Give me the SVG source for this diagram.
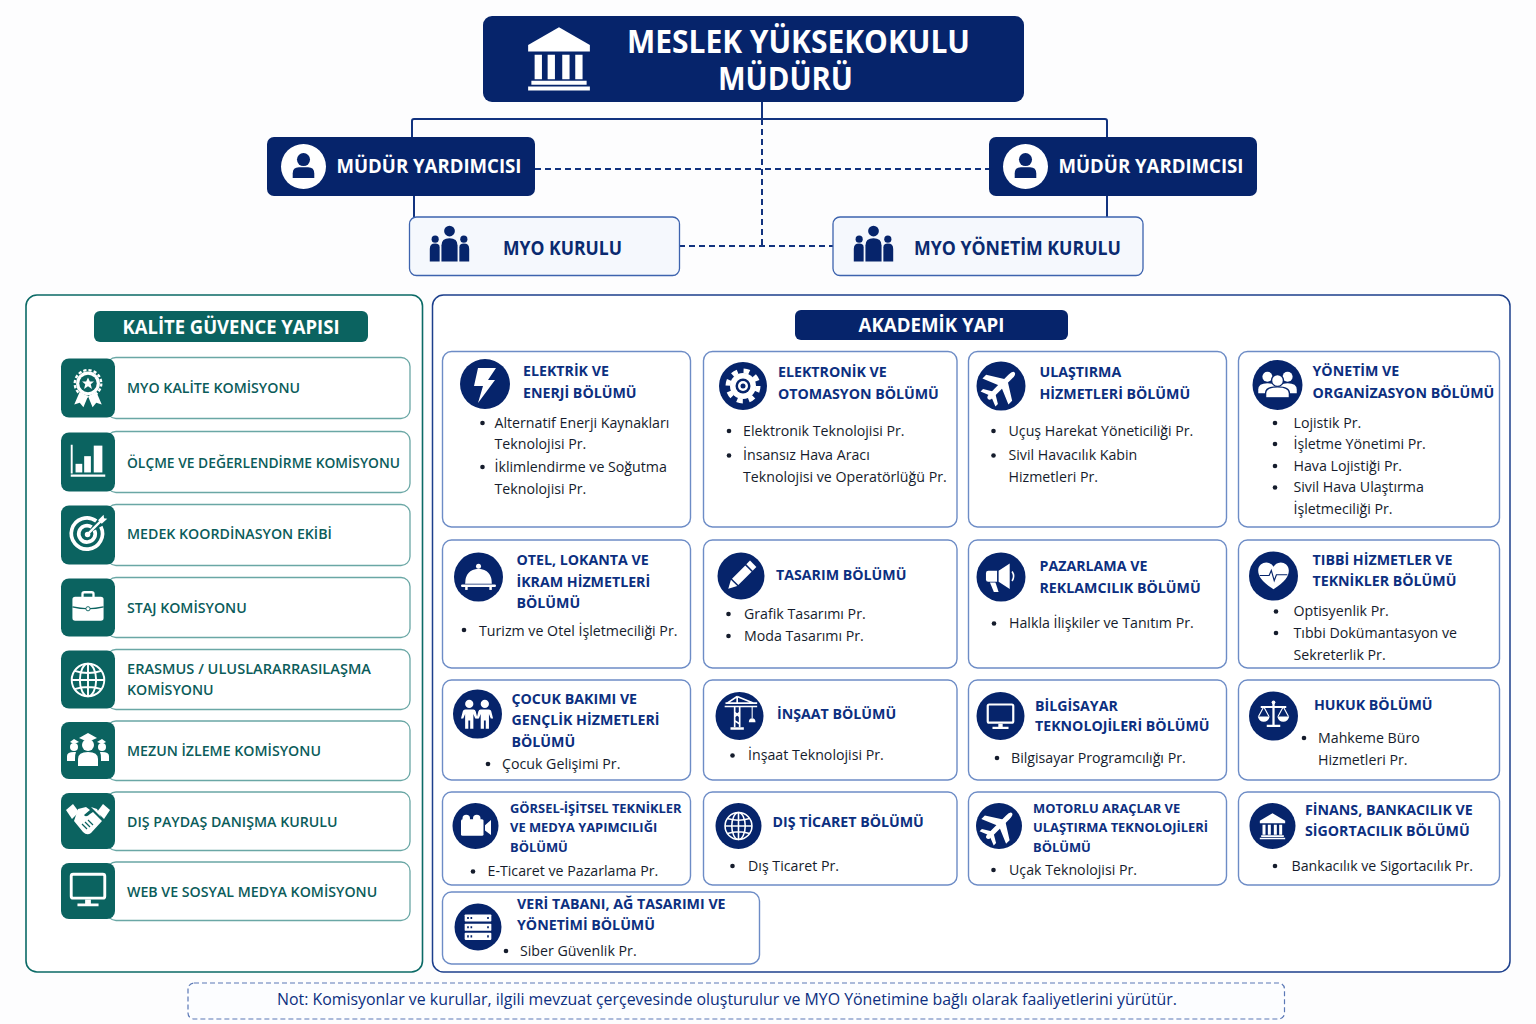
<svg xmlns="http://www.w3.org/2000/svg" width="1536" height="1024" viewBox="0 0 1536 1024">
<style>
text{font-family:"Open Sans","Noto Sans","Liberation Sans",sans-serif}
.navy{fill:#06246b}
.big{font-weight:700;fill:#fff;font-size:33px}
.vp{font-weight:700;fill:#fff;font-size:20px}
.kur{font-weight:700;fill:#0a2a70;font-size:19px}
.hd{font-weight:700;fill:#fff;font-size:19px;text-anchor:middle}
.pan{fill:#fff;stroke:#1c3f8c;stroke-width:1.5}
.pant{fill:#fff;stroke:#0b6a66;stroke-width:1.6}
.card{fill:#fff;stroke:#6d8cc6;stroke-width:1.4}
.qc{fill:#fff;stroke:#6aa7a5;stroke-width:1.3}
.tile{fill:#0b6360;color:#0b6360}
.qt{font-weight:600;fill:#0b5c5a;font-size:14.2px}
.ic{fill:#06246b}
.t{font-weight:700;fill:#0c2f80;font-size:14.2px}
.ts{font-weight:700;fill:#0c2f80;font-size:12.9px}
.b{fill:#151c2c;font-size:14.2px}
.d{fill:#151c2c}
.con{fill:none;stroke:#12337f;stroke-width:2}
.das{stroke-dasharray:6 4}
.use{color:#06246b}
</style>
<defs>
<symbol id="i-bank" viewBox="0 0 48 48"><path fill="#fff" d="M24 5L43 16V20H5V16Z"/><path fill="#fff" d="M9 22h4.500v15H9zM17 22h4.500v15H17zM26 22h4.500v15H26zM34 22h4.500v15H34zM7 38h34v2.500H7zM5 41.500h38V44H5z"/></symbol>
<symbol id="i-person" viewBox="0 0 48 48"><circle cx="24" cy="15" r="8.500" fill="currentColor"/><path fill="currentColor" d="M10 39V33Q10 25 18 25H30Q38 25 38 33V39Z"/></symbol>
<symbol id="i-crowd" viewBox="0 0 48 48"><g fill="currentColor"><circle cx="24" cy="9" r="6"/><circle cx="8" cy="18" r="4"/><circle cx="40" cy="18" r="4"/><path d="M15 43V25Q15 17 24 17Q33 17 33 25V43Z"/><path d="M2 43V29Q2 23 8 23Q13 23 13 27V43Z"/><path d="M46 43V29Q46 23 40 23Q35 23 35 27V43Z"/></g></symbol>
<symbol id="i-award" viewBox="0 0 48 48"><path fill="#fff" d="M15 28L9 42L15 40L19 45L24 33ZM33 28L39 42L33 40L29 45L24 33Z"/><circle cx="24" cy="19" r="13" fill="#fff"/><circle cx="24" cy="19" r="14.500" fill="none" stroke="#fff" stroke-width="2.500" stroke-dasharray="3.500 2.200"/><circle cx="24" cy="19" r="9.500" fill="currentColor"/><path fill="#fff" d="M24 12.500L26 17H30.500L27 20L28.300 25L24 22.200L19.700 25L21 20L17.500 17H22Z"/></symbol>
<symbol id="i-chart" viewBox="0 0 48 48"><g fill="#fff"><path d="M6 8h2v30H6zM6 39h36v2.500H6z"/><rect x="11" y="28" width="7" height="9"/><rect x="20" y="20" width="7" height="17"/><rect x="30" y="9" width="9" height="28"/></g></symbol>
<symbol id="i-target" viewBox="0 0 48 48"><g fill="none" stroke="#fff"><path stroke-width="4" d="M33 11A17 17 0 1 0 38 17"/><path stroke-width="4" d="M28 17.500A9 9 0 1 0 31 21"/></g><circle cx="23.500" cy="25.500" r="3" fill="#fff"/><path stroke="#fff" stroke-width="2.500" d="M24 25L39 10"/><path fill="#fff" d="M35 10L41 4L41.500 8L45 8.500L39 14Z"/></symbol>
<symbol id="i-case" viewBox="0 0 48 48"><path fill="none" stroke="#fff" stroke-width="2.500" d="M18 15V10.500Q18 9 20 9H28Q30 9 30 10.500V15"/><rect x="7" y="14" width="34" height="26" rx="3" fill="#fff"/><path fill="none" stroke="currentColor" stroke-width="1.300" d="M7 25Q24 29 41 25"/><circle cx="24" cy="27" r="2.300" fill="#fff" stroke="currentColor"/></symbol>
<symbol id="i-globe" viewBox="0 0 48 48"><g fill="none" stroke="#fff" stroke-width="2"><circle cx="24" cy="24" r="17"/><ellipse cx="24" cy="24" rx="8.500" ry="17"/><path d="M24 7V41M7 24H41M10 14.500Q24 19 38 14.500M10 33.500Q24 29 38 33.500"/></g></symbol>
<symbol id="i-grads" viewBox="0 0 48 48"><g fill="#fff"><path d="M24 6L33 11L24 15L15 11Z"/><circle cx="24" cy="18" r="6"/><path d="M14 39V32Q14 25 24 25Q34 25 34 32V39Z"/><path d="M10 12L15 15L10 17L6 15Z"/><circle cx="10" cy="20" r="4"/><path d="M3 34V29Q3 25 10 25L12 25Q11 27 11 32V34Z"/><path d="M38 12L42 15L38 17L33 15Z"/><circle cx="38" cy="20" r="4"/><path d="M45 34V29Q45 25 38 25L36 25Q37 27 37 32V34Z"/></g></symbol>
<symbol id="i-hands" viewBox="0 0 48 48"><g fill="#fff"><path d="M2 15L9 9L15 17L8 24Z"/><path d="M46 15L39 9L33 17L40 24Z"/><path d="M14 14L22 12L26 15L20 20Q22 23 26 19L29 17L38 26L27 38Q23 41 19 37L10 26Z"/><path d="M27 12L33 14L37 22L31 16Z"/></g><path fill="none" stroke="currentColor" stroke-width="1.200" d="M18 29L23 34M21 27L26 32M24 25L29 30"/></symbol>
<symbol id="i-mon" viewBox="0 0 48 48"><rect x="6.500" y="7.500" width="35" height="25" rx="2" fill="none" stroke="#fff" stroke-width="3"/><path fill="#fff" d="M21 34h6v4h-6zM13 38h22v3H13z"/></symbol>
<symbol id="i-bolt" viewBox="0 0 48 48"><path fill="#fff" d="M17 8H35L27 20H34L17 43L22 26H13Z"/></symbol>
<symbol id="i-gear" viewBox="0 0 48 48"><circle cx="24" cy="24" r="13" fill="#fff"/><circle cx="24" cy="24" r="15" fill="none" stroke="#fff" stroke-width="5" stroke-dasharray="5.800 6"/><circle cx="24" cy="24" r="7.500" fill="currentColor"/><circle cx="24" cy="24" r="5" fill="#fff"/><circle cx="24" cy="24" r="2.500" fill="currentColor"/></symbol>
<symbol id="i-plane" viewBox="0 0 48 48"><g transform="rotate(-45 24 24)" fill="#fff"><path d="M3 24Q3 21 8 21H39Q46 21 46 24Q46 27 39 27H8Q3 27 3 24Z"/><path d="M23 22L15 3H21L33 22ZM23 26L15 45H21L33 26Z"/><path d="M7 22L3 12H7L13 22ZM7 26L3 36H7L13 26Z"/></g></symbol>
<symbol id="i-group" viewBox="0 0 48 48"><g fill="#fff"><circle cx="13" cy="15" r="5.500"/><circle cx="35" cy="15" r="5.500"/><path d="M3 33V29Q3 22 13 22Q23 22 23 29V33Z"/><path d="M25 33V29Q25 22 35 22Q45 22 45 29V33Z"/><circle cx="24" cy="19" r="6.500" stroke="currentColor" stroke-width="1.500"/><path stroke="currentColor" stroke-width="1.500" d="M11 38V33Q11 26 24 26Q37 26 37 33V38Z"/></g></symbol>
<symbol id="i-clo" viewBox="0 0 48 48"><g fill="#fff"><circle cx="24" cy="11" r="3"/><path d="M8 32Q8 15 24 14Q40 15 40 32Z"/><rect x="3" y="33" width="42" height="3" rx="1.500"/><rect x="8" y="36" width="3" height="3.500"/><rect x="37" y="36" width="3" height="3.500"/></g></symbol>
<symbol id="i-pen" viewBox="0 0 48 48"><g transform="rotate(45 24 24)" fill="#fff"><rect x="18" y="1" width="12" height="7"/><rect x="18" y="10" width="12" height="25"/><path d="M18 37H30L24 48Z"/></g></symbol>
<symbol id="i-mega" viewBox="0 0 48 48"><g fill="#fff"><path d="M5 19Q5 16 8 16H19V30H8Q5 30 5 27Z"/><path d="M21 16L35 7V39L21 30Z"/><path d="M10 31H17L21 43H15Z"/></g><path fill="none" stroke="#fff" stroke-width="2" d="M38 17Q42 23 38 29"/></symbol>
<symbol id="i-heart" viewBox="0 0 48 48"><path fill="#fff" d="M24 43C8 32 3 25 3 17C3 10 9 6 14 6C19 6 22 9 24 12C26 9 29 6 34 6C39 6 45 10 45 17C45 25 40 32 24 43Z"/><path fill="none" stroke="currentColor" stroke-width="1.600" d="M5 24H18L21 17L25 31L28 23H43"/></symbol>
<symbol id="i-kids" viewBox="0 0 48 48"><defs><path id="kid" d="M10.500 19H19.500Q21.500 19 22 21L24 29H21.500L19.500 24V40H16V31H14V40H10.500V24L8.500 29H6L8 21Q8.500 19 10.500 19Z"/></defs><g fill="#fff"><circle cx="15" cy="13" r="4.500"/><circle cx="32" cy="13" r="4.500"/><use href="#kid"/><use href="#kid" x="17"/></g></symbol>
<symbol id="i-crane" viewBox="0 0 48 48"><g stroke="#fff" fill="none"><path stroke-width="2" d="M17 16V40M23 16V40M17 22L23 27M23 22L17 27M17 32L23 36M5 15H44M6 11H44M20 3L8 11M20 3L40 11M20 3V11"/><path stroke-width="1.300" d="M38 15V29"/></g><path fill="#fff" d="M12 40H28V43H12ZM34 34Q34 29 38 29Q42 29 42 34Z"/></symbol>
<symbol id="i-scale" viewBox="0 0 48 48"><g fill="#fff"><path d="M22.500 7h3v30h-3zM15 37H33V40H15zM7 12H41V14.500H7z"/><path d="M3 26H19Q17 33 11 33Q5 33 3 26ZM29 26H45Q43 33 37 33Q31 33 29 26Z"/><circle cx="24" cy="7" r="2.500"/></g><path fill="none" stroke="#fff" stroke-width="1.500" d="M11 13L4 26M11 13L18 26M37 13L30 26M37 13L44 26"/></symbol>
<symbol id="i-cam" viewBox="0 0 48 48"><g fill="#fff"><rect x="4" y="15" width="30" height="22" rx="2"/><circle cx="11" cy="14" r="5"/><circle cx="25" cy="14" r="5"/><path d="M36 23L44 16V36L36 30Z"/></g></symbol>
<symbol id="i-srv" viewBox="0 0 48 48"><g fill="#fff"><rect x="8" y="9" width="32" height="8.500" rx="1"/><rect x="8" y="20" width="32" height="8.500" rx="1"/><rect x="8" y="31" width="32" height="8.500" rx="1"/></g><g fill="currentColor"><path d="M11 12h2v2.500h-2zM15 12h2v2.500h-2zM35 12h2v2.500h-2zM11 23h2v2.500h-2zM15 23h2v2.500h-2zM35 23h2v2.500h-2zM11 34h2v2.500h-2zM15 34h2v2.500h-2zM35 34h2v2.500h-2z"/></g></symbol>
</defs>
<rect width="1536" height="1024" fill="#fdfdfe"/>

<g id="connectors">
<path class="con" d="M762 102V119M412 137V121Q412 119 414 119H1105Q1107 119 1107 121V137M414 196V217M1107 196V217"/>
<path class="con das" d="M762 119V246M535 169H989M679 246H833"/>
</g>

<g id="node-mudur">
<rect class="navy" x="483" y="16" width="541" height="86" rx="9"/>
<use href="#i-bank" x="520" y="19" width="78" height="78"/>
<text class="big" x="627" y="53" textLength="343" lengthAdjust="spacingAndGlyphs">MESLEK YÜKSEKOKULU</text>
<text class="big" x="718" y="90" textLength="135" lengthAdjust="spacingAndGlyphs">MÜDÜRÜ</text>
</g>
<g id="node-yard1" style="color:#06246b">
<rect class="navy" x="267" y="137" width="268" height="59" rx="7"/>
<circle cx="303.500" cy="166.500" r="22.500" fill="#fff"/>
<use href="#i-person" x="285" y="148" width="37" height="37"/>
<text class="vp" x="336.500" y="173" textLength="185" lengthAdjust="spacingAndGlyphs">MÜDÜR YARDIMCISI</text>
</g>
<g id="node-yard2" style="color:#06246b">
<rect class="navy" x="989" y="137" width="268" height="59" rx="7"/>
<circle cx="1025.500" cy="166.500" r="22.500" fill="#fff"/>
<use href="#i-person" x="1007" y="148" width="37" height="37"/>
<text class="vp" x="1058.500" y="173" textLength="185" lengthAdjust="spacingAndGlyphs">MÜDÜR YARDIMCISI</text>
</g>
<g id="node-kurul" style="color:#06246b">
<rect x="409.500" y="217" width="270" height="58.500" rx="7" fill="#f5f8fd" stroke="#3d63ae" stroke-width="1.300"/>
<use href="#i-crowd" x="426" y="223" width="47" height="43"/>
<text class="kur" x="503" y="255" textLength="119" lengthAdjust="spacingAndGlyphs">MYO KURULU</text>
</g>
<g id="node-yonetim" style="color:#06246b">
<rect x="833" y="217" width="310" height="58.500" rx="7" fill="#f5f8fd" stroke="#3d63ae" stroke-width="1.300"/>
<use href="#i-crowd" x="850" y="223" width="47" height="43"/>
<text class="kur" x="914" y="255" textLength="207" lengthAdjust="spacingAndGlyphs">MYO YÖNETİM KURULU</text>
</g>

<g id="panel-kalite">
<rect class="pant" x="26" y="295" width="396.500" height="677" rx="11"/>
<rect x="94" y="311" width="274" height="31" rx="6" fill="#0b6360"/>
<text class="hd" x="231" y="333.500" textLength="217" lengthAdjust="spacingAndGlyphs">KALİTE GÜVENCE YAPISI</text>
</g>
<g id="q1" class="tile"><rect class="qc" x="107" y="357.500" width="303" height="61" rx="9"/><rect class="tile" x="61" y="358.500" width="54" height="59" rx="8"/><use href="#i-award" x="66" y="366" width="44" height="44"/><text class="qt" x="127" y="393">MYO KALİTE KOMİSYONU</text></g>
<g id="q2" class="tile"><rect class="qc" x="107" y="431.500" width="303" height="61" rx="9"/><rect class="tile" x="61" y="432.500" width="54" height="59" rx="8"/><use href="#i-chart" x="65" y="437" width="46" height="46"/><text class="qt" x="127" y="467.500" textLength="273" lengthAdjust="spacingAndGlyphs">ÖLÇME VE DEĞERLENDİRME KOMİSYONU</text></g>
<g id="q3" class="tile"><rect class="qc" x="107" y="504.500" width="303" height="61" rx="9"/><rect class="tile" x="61" y="505.500" width="54" height="59" rx="8"/><use href="#i-target" x="66" y="511" width="44" height="44"/><text class="qt" x="127" y="539">MEDEK KOORDİNASYON EKİBİ</text></g>
<g id="q4" class="tile"><rect class="qc" x="107" y="577.500" width="303" height="60" rx="9"/><rect class="tile" x="61" y="578.500" width="54" height="58" rx="8"/><use href="#i-case" x="66" y="584" width="44" height="44"/><text class="qt" x="127" y="612.500">STAJ KOMİSYONU</text></g>
<g id="q5" class="tile"><rect class="qc" x="107" y="649.500" width="303" height="60" rx="9"/><rect class="tile" x="61" y="650.500" width="54" height="58" rx="8"/><use href="#i-globe" x="65" y="657" width="46" height="46"/><text class="qt" x="127" y="674" textLength="244" lengthAdjust="spacingAndGlyphs">ERASMUS / ULUSLARARRASILAŞMA</text><text class="qt" x="127" y="695">KOMİSYONU</text></g>
<g id="q6" class="tile"><rect class="qc" x="107" y="721" width="303" height="59.500" rx="9"/><rect class="tile" x="61" y="722" width="54" height="57" rx="8"/><use href="#i-grads" x="64" y="727" width="48" height="48"/><text class="qt" x="127" y="756">MEZUN İZLEME KOMİSYONU</text></g>
<g id="q7" class="tile"><rect class="qc" x="107" y="792" width="303" height="58.500" rx="9"/><rect class="tile" x="61" y="793" width="54" height="56" rx="8"/><use href="#i-hands" x="64" y="795" width="48" height="48"/><text class="qt" x="127" y="826.500">DIŞ PAYDAŞ DANIŞMA KURULU</text></g>
<g id="q8" class="tile"><rect class="qc" x="107" y="862" width="303" height="58.500" rx="9"/><rect class="tile" x="61" y="863" width="54" height="56" rx="8"/><use href="#i-mon" x="65" y="867" width="46" height="46"/><text class="qt" x="127" y="896.500">WEB VE SOSYAL MEDYA KOMİSYONU</text></g>

<g id="panel-akademik">
<rect class="pan" x="432.500" y="295" width="1077.500" height="677" rx="11"/>
<rect class="navy" x="795" y="310" width="273" height="30" rx="6"/>
<text class="hd" x="931.500" y="332" textLength="146" lengthAdjust="spacingAndGlyphs">AKADEMİK YAPI</text>
</g>

<g id="c1" class="use"><rect class="card" x="442.500" y="351.500" width="248" height="175.500" rx="9"/><circle class="ic" cx="485" cy="384" r="25"/><use href="#i-bolt" x="461" y="360" width="48" height="48"/><text class="t" x="523" y="376">ELEKTRİK VE</text><text class="t" x="523" y="397.500">ENERJİ BÖLÜMÜ</text><circle class="d" cx="482.500" cy="423" r="2.300"/><text class="b" x="494.500" y="428">Alternatif Enerji Kaynakları</text><text class="b" x="494.500" y="449">Teknolojisi Pr.</text><circle class="d" cx="482.500" cy="467" r="2.300"/><text class="b" x="494.500" y="472">İklimlendirme ve Soğutma</text><text class="b" x="494.500" y="494">Teknolojisi Pr.</text></g>
<g id="c2" class="use"><rect class="card" x="703.500" y="351.500" width="253.500" height="175.500" rx="9"/><circle class="ic" cx="743" cy="386" r="24"/><use href="#i-gear" x="719" y="362" width="48" height="48"/><text class="t" x="778" y="377">ELEKTRONİK VE</text><text class="t" x="778" y="398.500">OTOMASYON BÖLÜMÜ</text><circle class="d" cx="729" cy="431" r="2.300"/><text class="b" x="743" y="436">Elektronik Teknolojisi Pr.</text><circle class="d" cx="729" cy="455.500" r="2.300"/><text class="b" x="743" y="460">İnsansız Hava Aracı</text><text class="b" x="743" y="482">Teknolojisi ve Operatörlüğü Pr.</text></g>
<g id="c3" class="use"><rect class="card" x="968.500" y="351.500" width="258" height="175.500" rx="9"/><circle class="ic" cx="1001" cy="386" r="24.500"/><use href="#i-plane" x="980" y="365" width="42" height="42"/><text class="t" x="1039.500" y="377">ULAŞTIRMA</text><text class="t" x="1039.500" y="398.500">HİZMETLERİ BÖLÜMÜ</text><circle class="d" cx="993.500" cy="431" r="2.300"/><text class="b" x="1008.500" y="436">Uçuş Harekat Yöneticiliği Pr.</text><circle class="d" cx="993.500" cy="455.500" r="2.300"/><text class="b" x="1008.500" y="460">Sivil Havacılık Kabin</text><text class="b" x="1008.500" y="482">Hizmetleri Pr.</text></g>
<g id="c4" class="use"><rect class="card" x="1238.500" y="351.500" width="261" height="175.500" rx="9"/><circle class="ic" cx="1277.500" cy="385" r="25"/><use href="#i-group" x="1255.500" y="363" width="44" height="44"/><text class="t" x="1312.500" y="376">YÖNETİM VE</text><text class="t" x="1312.500" y="397.500">ORGANİZASYON BÖLÜMÜ</text><circle class="d" cx="1275" cy="423" r="2.300"/><text class="b" x="1293.500" y="428">Lojistik Pr.</text><circle class="d" cx="1275" cy="444" r="2.300"/><text class="b" x="1293.500" y="449">İşletme Yönetimi Pr.</text><circle class="d" cx="1275" cy="466" r="2.300"/><text class="b" x="1293.500" y="471">Hava Lojistiği Pr.</text><circle class="d" cx="1275" cy="487.500" r="2.300"/><text class="b" x="1293.500" y="492">Sivil Hava Ulaştırma</text><text class="b" x="1293.500" y="514">İşletmeciliği Pr.</text></g>

<g id="c5" class="use"><rect class="card" x="442.500" y="540" width="248" height="128" rx="9"/><circle class="ic" cx="478.500" cy="577" r="24.500"/><use href="#i-clo" x="458.500" y="557" width="40" height="40"/><text class="t" x="516.500" y="565">OTEL, LOKANTA VE</text><text class="t" x="516.500" y="586.500">İKRAM HİZMETLERİ</text><text class="t" x="516.500" y="607.500">BÖLÜMÜ</text><circle class="d" cx="464" cy="630" r="2.300"/><text class="b" x="479" y="636">Turizm ve Otel İşletmeciliği Pr.</text></g>
<g id="c6" class="use"><rect class="card" x="703.500" y="540" width="253.500" height="128" rx="9"/><circle class="ic" cx="741" cy="576" r="23.500"/><use href="#i-pen" x="723" y="558" width="36" height="36"/><text class="t" x="776" y="580">TASARIM BÖLÜMÜ</text><circle class="d" cx="728.500" cy="614" r="2.300"/><text class="b" x="744" y="619">Grafik Tasarımı Pr.</text><circle class="d" cx="728.500" cy="636" r="2.300"/><text class="b" x="744" y="640.500">Moda Tasarımı Pr.</text></g>
<g id="c7" class="use"><rect class="card" x="968.500" y="540" width="258" height="128" rx="9"/><circle class="ic" cx="1001" cy="577" r="24.500"/><use href="#i-mega" x="982" y="558" width="38" height="38"/><text class="t" x="1039.500" y="571">PAZARLAMA VE</text><text class="t" x="1039.500" y="593">REKLAMCILIK BÖLÜMÜ</text><circle class="d" cx="994" cy="623.500" r="2.300"/><text class="b" x="1009" y="628">Halkla İlişkiler ve Tanıtım Pr.</text></g>
<g id="c8" class="use"><rect class="card" x="1238.500" y="540" width="261" height="128" rx="9"/><circle class="ic" cx="1273.500" cy="576" r="24.500"/><use href="#i-heart" x="1256" y="558" width="35" height="35"/><text class="t" x="1312.500" y="565">TIBBİ HİZMETLER VE</text><text class="t" x="1312.500" y="586">TEKNİKLER BÖLÜMÜ</text><circle class="d" cx="1276" cy="611.500" r="2.300"/><text class="b" x="1293.500" y="616">Optisyenlik Pr.</text><circle class="d" cx="1276" cy="633" r="2.300"/><text class="b" x="1293.500" y="638">Tıbbi Dokümantasyon ve</text><text class="b" x="1293.500" y="659.500">Sekreterlik Pr.</text></g>

<g id="c9" class="use"><rect class="card" x="442.500" y="680" width="248" height="100" rx="9"/><circle class="ic" cx="477.500" cy="714" r="24.500"/><use href="#i-kids" x="455.500" y="692" width="44" height="44"/><text class="t" x="511.500" y="704">ÇOCUK BAKIMI VE</text><text class="t" x="511.500" y="725">GENÇLİK HİZMETLERİ</text><text class="t" x="511.500" y="746.500">BÖLÜMÜ</text><circle class="d" cx="488" cy="764" r="2.300"/><text class="b" x="502" y="769">Çocuk Gelişimi Pr.</text></g>
<g id="c10" class="use"><rect class="card" x="703.500" y="680" width="253.500" height="100" rx="9"/><circle class="ic" cx="739.500" cy="716" r="24"/><use href="#i-crane" x="720.500" y="694" width="40" height="40"/><text class="t" x="777" y="719">İNŞAAT BÖLÜMÜ</text><circle class="d" cx="732.500" cy="755.500" r="2.300"/><text class="b" x="748" y="760">İnşaat Teknolojisi Pr.</text></g>
<g id="c11" class="use"><rect class="card" x="968.500" y="680" width="258" height="100" rx="9"/><circle class="ic" cx="1000.500" cy="716" r="24"/><use href="#i-mon" x="983" y="699" width="35" height="35"/><text class="t" x="1035" y="711">BİLGİSAYAR</text><text class="t" x="1035" y="731">TEKNOLOJİLERİ BÖLÜMÜ</text><circle class="d" cx="997" cy="758" r="2.300"/><text class="b" x="1011" y="763">Bilgisayar Programcılığı Pr.</text></g>
<g id="c12" class="use"><rect class="card" x="1238.500" y="680" width="261" height="100" rx="9"/><circle class="ic" cx="1273.500" cy="716" r="24.500"/><use href="#i-scale" x="1255.500" y="697" width="36" height="36"/><text class="t" x="1314" y="710">HUKUK BÖLÜMÜ</text><circle class="d" cx="1304" cy="738" r="2.300"/><text class="b" x="1318" y="743">Mahkeme Büro</text><text class="b" x="1318" y="765">Hizmetleri Pr.</text></g>

<g id="c13" class="use"><rect class="card" x="442.500" y="792" width="248" height="93" rx="9"/><circle class="ic" cx="475.500" cy="826" r="23"/><use href="#i-cam" x="458" y="808" width="36" height="36"/><text class="ts" x="510" y="813">GÖRSEL-İŞİTSEL TEKNİKLER</text><text class="ts" x="510" y="832">VE MEDYA YAPIMCILIĞI</text><text class="ts" x="510" y="852">BÖLÜMÜ</text><circle class="d" cx="473" cy="871.500" r="2.300"/><text class="b" x="487.500" y="876">E-Ticaret ve Pazarlama Pr.</text></g>
<g id="c14" class="use"><rect class="card" x="703.500" y="792" width="253.500" height="93" rx="9"/><circle class="ic" cx="738.500" cy="826" r="23"/><use href="#i-globe" x="719.500" y="807" width="38" height="38"/><text class="t" x="772.500" y="827">DIŞ TİCARET BÖLÜMÜ</text><circle class="d" cx="732.500" cy="866" r="2.300"/><text class="b" x="748" y="871">Dış Ticaret Pr.</text></g>
<g id="c15" class="use"><rect class="card" x="968.500" y="792" width="258" height="93" rx="9"/><circle class="ic" cx="999" cy="826" r="23"/><use href="#i-plane" x="979" y="806" width="40" height="40"/><text class="ts" x="1033" y="813">MOTORLU ARAÇLAR VE</text><text class="ts" x="1033" y="832">ULAŞTIRMA TEKNOLOJİLERİ</text><text class="ts" x="1033" y="852">BÖLÜMÜ</text><circle class="d" cx="993.500" cy="870" r="2.300"/><text class="b" x="1009" y="875">Uçak Teknolojisi Pr.</text></g>
<g id="c16" class="use"><rect class="card" x="1238.500" y="792" width="261" height="93" rx="9"/><circle class="ic" cx="1272.500" cy="826" r="23"/><use href="#i-bank" x="1256.500" y="810" width="32" height="32"/><text class="t" x="1305" y="815">FİNANS, BANKACILIK VE</text><text class="t" x="1305" y="836">SİGORTACILIK BÖLÜMÜ</text><circle class="d" cx="1275" cy="866" r="2.300"/><text class="b" x="1291.500" y="871">Bankacılık ve Sigortacılık Pr.</text></g>
<g id="c17" class="use"><rect class="card" x="442.500" y="892" width="317" height="72" rx="9"/><circle class="ic" cx="478" cy="927" r="23.500"/><use href="#i-srv" x="458" y="907" width="40" height="40"/><text class="t" x="517" y="909">VERİ TABANI, AĞ TASARIMI VE</text><text class="t" x="517" y="930">YÖNETİMİ BÖLÜMÜ</text><circle class="d" cx="506" cy="951" r="2.300"/><text class="b" x="520" y="956">Siber Güvenlik Pr.</text></g>

<g id="note">
<rect x="188" y="983" width="1096.500" height="36" rx="6" fill="#fcfdff" stroke="#5b78b6" stroke-width="1.200" stroke-dasharray="5 3"/>
<text x="277" y="1005" font-size="16" fill="#0c2f80" textLength="900" lengthAdjust="spacingAndGlyphs">Not: Komisyonlar ve kurullar, ilgili mevzuat çerçevesinde oluşturulur ve MYO Yönetimine bağlı olarak faaliyetlerini yürütür.</text>
</g>
</svg>
